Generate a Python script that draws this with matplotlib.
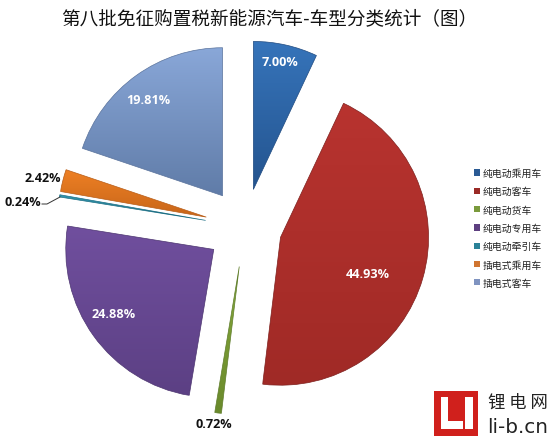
import matplotlib
matplotlib.use("Agg")
import matplotlib.pyplot as plt
import numpy as np
from matplotlib.patches import Rectangle

plt.rcParams['font.family'] = ['Noto Sans CJK SC', 'DejaVu Sans']

categories = ['纯电动乘用车', '纯电动客车', '纯电动货车', '纯电动专用车', '纯电动牵引车', '插电式乘用车', '插电式客车']
shares = [7.00, 44.93, 0.72, 24.88, 0.24, 2.42, 19.81]
share_labels = ['7.00%', '44.93%', '0.72%', '24.88%', '0.24%', '2.42%', '19.81%']
explode = [0.26, 0.25, 0.27, 0.26, 0.27, 0.27, 0.26]
light = ['#3674ba', '#b8332f', '#86a83a', '#704f9e', '#3398b0', '#ee8024', '#89a7d8']
dark = ['#24548f', '#a02a26', '#6a8a2c', '#5c4084', '#1d6f85', '#c8661a', '#607ca8']
legend_colors = ['#2a5a94', '#9a2a26', '#7a9a3c', '#5d3f80', '#2a8298', '#d07530', '#7f93c0']
edge_colors = ['#1f4a80', '#7e1f1c', '#5f7d2c', '#4c3470', '#1d6f85', '#b85c16', '#5a739c']
label_pos = [(280, 63), (368, 275), (214, 425), (114, 314), (23, 202), (43, 179), (148, 101)]
label_color = ['white', 'white', '#111111', 'white', '#111111', '#111111', 'white']

W, H = 550, 439
fig = plt.figure(figsize=(W / 100, H / 100), dpi=100, facecolor='white')
ax = fig.add_axes([0, 0, 1, 1])

cx, cy, R = 245, 228, 148
wedges, _ = ax.pie(shares, explode=[e * R for e in explode], colors=legend_colors, startangle=90, counterclock=False,
                   center=(cx, H - cy), radius=R, frame=False)
ax.set_xlim(0, W)
ax.set_ylim(0, H)
ax.set_aspect('equal')
ax.axis('off')

leg = ax.legend(wedges, categories, loc='upper left', bbox_to_anchor=(474 / W, 1 - 169 / H),
                bbox_transform=ax.transAxes, frameon=False, fontsize=7.1, handlelength=0.6,
                handleheight=0.6, handletextpad=0.3, labelspacing=0.84, borderaxespad=0, borderpad=0)
for t in leg.get_texts():
    t.set_color('#222222')

for w, c0, c1, ec in zip(wedges, light, dark, edge_colors):
    bb = w.get_path().transformed(w.get_patch_transform()).get_extents()
    rgb0 = np.array(matplotlib.colors.to_rgb(c0))
    rgb1 = np.array(matplotlib.colors.to_rgb(c1))
    t = np.linspace(0, 1, 64)[:, None, None]
    img = rgb0[None, None, :] * (1 - t) + rgb1[None, None, :] * t
    im = ax.imshow(img, extent=(bb.x0, bb.x1, bb.y0, bb.y1), origin='upper', aspect='auto', zorder=2)
    im.set_clip_path(w)
    w.set_facecolor('none')
    w.set_edgecolor(ec)
    w.set_linewidth(0.5)
    w.set_zorder(3)
ax.set_xlim(0, W)
ax.set_ylim(0, H)

latin = ['Open Sans', 'DejaVu Sans']
for s, (x, y), c in zip(share_labels, label_pos, label_color):
    ax.text(x, H - y, s, color=c, fontsize=9.1, fontweight='bold', family=latin,
            ha='center', va='center', zorder=5)

ax.plot([42, 47, 60], [H - 205, H - 205, H - 198], color='#333333', lw=0.7, zorder=5)

ax.text(269, H - 19, '第八批免征购置税新能源汽车-车型分类统计（图）', fontsize=13.4, color='#111111',
        ha='center', va='center', zorder=5)

ax.add_patch(Rectangle((434, H - 437), 44, 45, facecolor='#d0201c', edgecolor='none', zorder=5))
ax.add_patch(Rectangle((441, H - 430), 7, 32, facecolor='white', edgecolor='none', zorder=6))
ax.add_patch(Rectangle((441, H - 430), 22, 8, facecolor='white', edgecolor='none', zorder=6))
ax.add_patch(Rectangle((465, H - 430), 8, 32, facecolor='white', edgecolor='none', zorder=6))
ax.text(518, H - 403, '锂 电 网', fontsize=12.5, color='#222222', ha='center', va='center', zorder=6)
ax.text(518, H - 428, 'li-b.cn', fontsize=14.4, color='#222222', ha='center', va='center', zorder=6,
        family=['DejaVu Sans'])

fig.savefig('out.png', dpi=100, facecolor='white')
